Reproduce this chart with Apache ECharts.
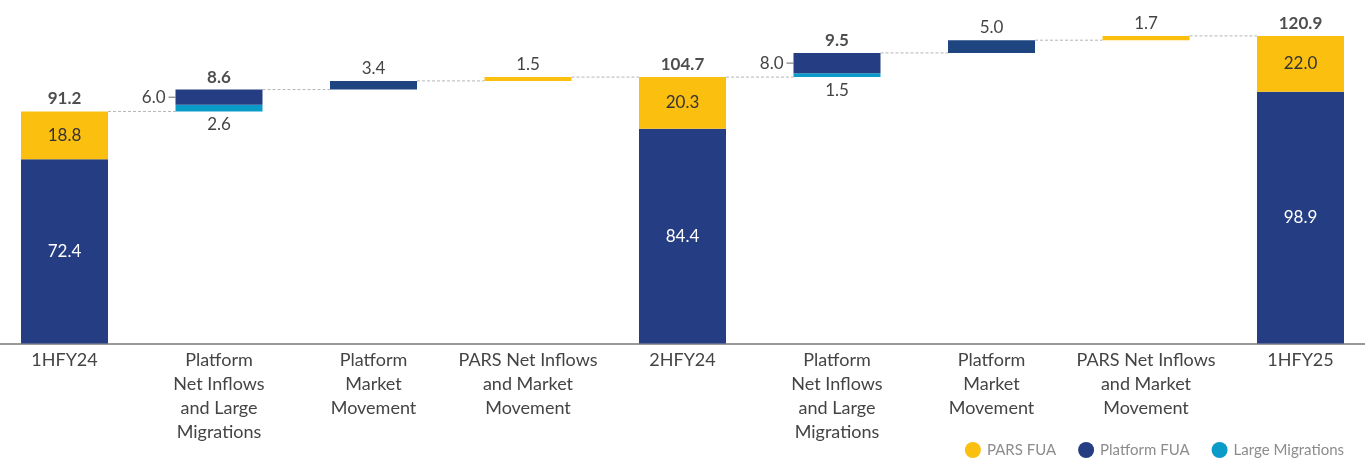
<!DOCTYPE html>
<html>
<head>
<meta charset="utf-8">
<script src="https://cdn.jsdelivr.net/npm/echarts@6/dist/echarts.min.js"></script>
<style>
  html, body { margin: 0; padding: 0; background: #fff; }
  #main { width: 1365px; height: 459px; }
</style>
</head>
<body>
<div id="main"></div>
<script>
// data (A$ bn)
var categories = ['1HFY24', 'Platform\nNet Inflows\nand Large\nMigrations', 'Platform\nMarket\nMovement',
    'PARS Net Inflows\nand Market\nMovement', '2HFY24', 'Platform\nNet Inflows\nand Large\nMigrations',
    'Platform\nMarket\nMovement', 'PARS Net Inflows\nand Market\nMovement', '1HFY25'];
var isTotal = [true, false, false, false, true, false, false, false, true];
var platformFUA = [72.4, 6.0, 3.4, null, 84.4, 8.0, 5.0, null, 98.9];
var largeMigrations = [null, 2.6, null, null, null, 1.5, null, null, null];
var parsFUA = [18.8, null, null, 1.5, 20.3, null, null, 1.7, 22.0];

var NAVY = '#253d82', MARKET_NAVY = '#1f4580', YELLOW = '#fbbf10', CYAN = '#0a9bc9';
var FONT = 'Lato';

// running totals -> invisible base + top of each column
var base = [], tops = [];
var running = 0;
for (var i = 0; i < categories.length; i++) {
    var sum = (platformFUA[i] || 0) + (largeMigrations[i] || 0) + (parsFUA[i] || 0);
    if (isTotal[i]) {
        base.push(0);
        running = sum;
    } else {
        base.push(+running.toFixed(1));
        running = running + sum;
    }
    tops.push(+running.toFixed(1));
}

function fmt1(p) { return (+p.value).toFixed(1); }

var labelBase = { fontFamily: FONT, fontSize: 17, color: '#444', formatter: fmt1 };

var platformData = platformFUA.map(function (v, i) {
    if (v == null) return '-';
    if (isTotal[i]) {
        return { value: v, label: { show: true, position: 'inside', color: '#fff' } };
    }
    if (largeMigrations[i] != null) {
        return {
            value: v,
            label: {
                show: true, position: 'left', distance: 0,
                formatter: '{v|' + v.toFixed(1) + '}{t| }',
                rich: {
                    v: { fontFamily: FONT, fontSize: 17, color: '#444', padding: [0, 3, 0, 0] },
                    t: { width: 7, height: 1, fontSize: 1, backgroundColor: '#666' }
                }
            }
        };
    }
    // market movement only
    return { value: v, itemStyle: { color: MARKET_NAVY }, label: { show: true, position: 'top', distance: 4 } };
});

var migrationData = largeMigrations.map(function (v) {
    if (v == null) return '-';
    return { value: v, label: { show: true, position: 'bottom', distance: 5 } };
});

var parsData = parsFUA.map(function (v, i) {
    if (v == null) return '-';
    if (isTotal[i]) return { value: v, label: { show: true, position: 'inside', color: '#333' } };
    return { value: v, label: { show: true, position: 'top', distance: 4 } };
});

// bold totals on top of the stacked / combined columns
var totalPoints = [];
for (var k = 0; k < categories.length; k++) {
    if (isTotal[k] || largeMigrations[k] != null) {
        totalPoints.push([k, tops[k], (tops[k] - base[k]).toFixed(1)]);
    }
}

// dashed connectors between columns
var connectors = [];
for (var c = 0; c < categories.length - 1; c++) {
    connectors.push([c, tops[c]]);
}

var BAR_W = 87;

var chart = echarts.init(document.getElementById('main'));
var option = {
    backgroundColor: '#ffffff',
    animation: false,
    grid: { left: -12.75, right: -12.75, top: 0, bottom: 115.5, outerBoundsMode: 'none' },
    legend: {
        data: ['PARS FUA', 'Platform FUA', 'Large Migrations'],
        icon: 'circle',
        itemWidth: 18, itemHeight: 16, itemGap: 22,
        right: 16, top: 437,
        textStyle: { fontFamily: FONT, fontSize: 15, color: '#8c8c8c' }
    },
    xAxis: {
        type: 'category',
        data: categories,
        axisLine: { lineStyle: { color: '#777', width: 1.5 } },
        axisTick: { show: false },
        axisLabel: {
            interval: 0, margin: 5,
            fontFamily: FONT, fontSize: 18, color: '#444', lineHeight: 24
        }
    },
    yAxis: {
        type: 'value', min: 0, max: 135, show: false,
        splitLine: { show: false }
    },
    series: [
        {
            name: 'base', type: 'bar', stack: 'fua', barWidth: BAR_W,
            itemStyle: { color: 'transparent' },
            data: base, silent: true
        },
        {
            name: 'Large Migrations', type: 'bar', stack: 'fua', barWidth: BAR_W,
            itemStyle: { color: CYAN }, label: labelBase,
            data: migrationData, z: 3
        },
        {
            name: 'Platform FUA', type: 'bar', stack: 'fua', barWidth: BAR_W,
            itemStyle: { color: NAVY }, label: labelBase,
            data: platformData, z: 3
        },
        {
            name: 'PARS FUA', type: 'bar', stack: 'fua', barWidth: BAR_W,
            itemStyle: { color: YELLOW }, label: labelBase,
            data: parsData, z: 3
        },
        {
            name: 'totals', type: 'scatter', symbolSize: 0,
            itemStyle: { color: 'transparent' },
            label: {
                show: true, position: 'top', distance: 4,
                fontFamily: FONT, fontSize: 17, fontWeight: 'bold', color: '#222',
                formatter: function (p) { return p.value[2]; }
            },
            data: totalPoints, z: 4
        },
        {
            name: 'connectors', type: 'custom', z: 1, silent: true,
            renderItem: function (params, api) {
                var i = api.value(0), v = api.value(1);
                var p1 = api.coord([i, v]);
                var p2 = api.coord([i + 1, v]);
                return {
                    type: 'line',
                    shape: { x1: p1[0] + BAR_W / 2, y1: p1[1], x2: p2[0] - BAR_W / 2, y2: p2[1] },
                    style: { stroke: '#b5b5b5', lineWidth: 1, lineDash: [3, 2] }
                };
            },
            data: connectors
        }
    ]
};
chart.setOption(option);
</script>
</body>
</html>
